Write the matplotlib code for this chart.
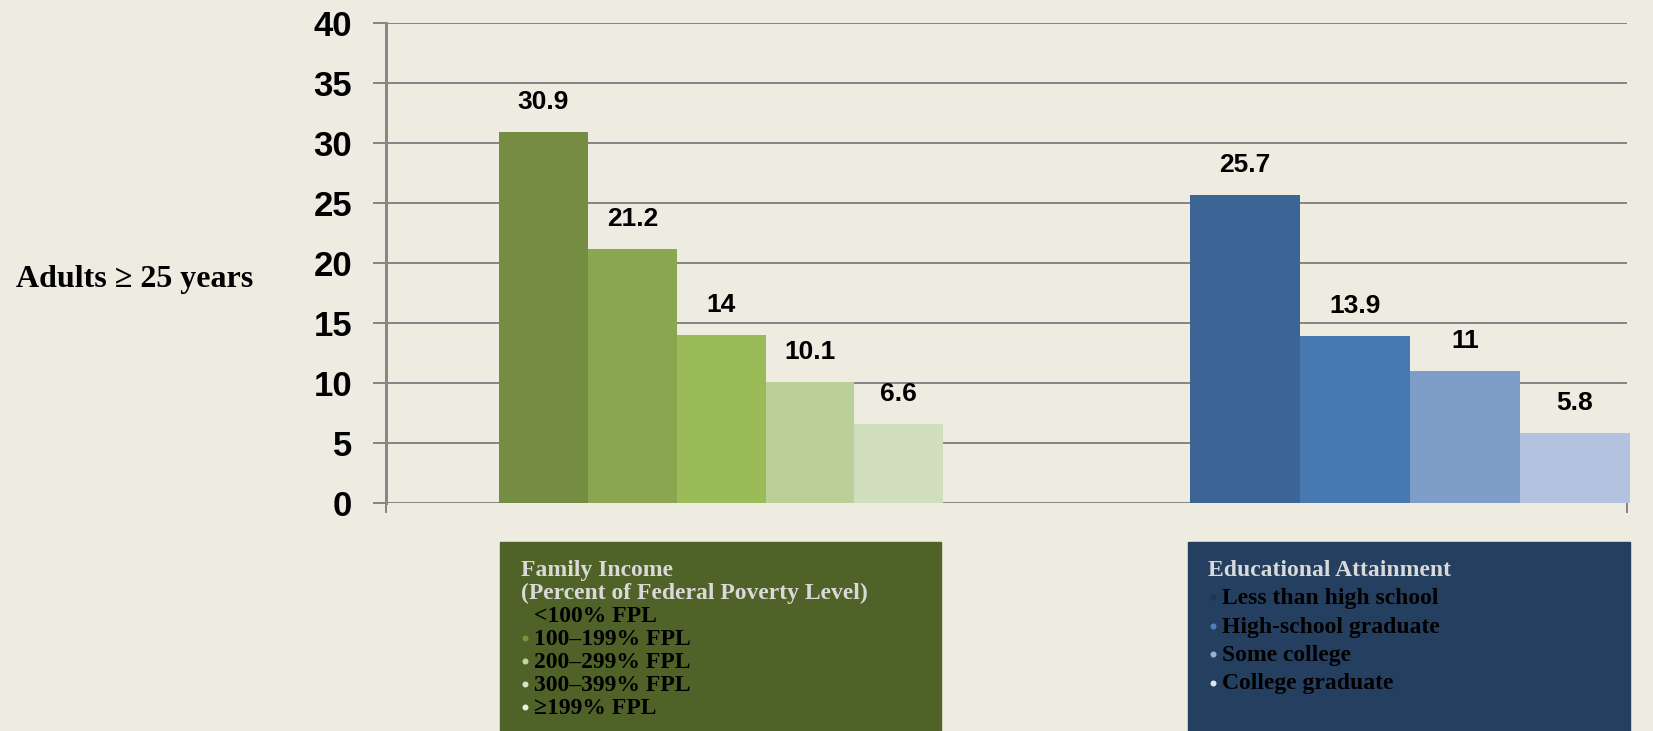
import matplotlib
matplotlib.use('Agg')
from matplotlib import pyplot as plt
from matplotlib.lines import Line2D
import matplotlib.patches as patches

# data
income_labels = ['<100% FPL', '100\u2013199% FPL', '200\u2013299% FPL', '300\u2013399% FPL', '\u2265199% FPL']
income_values = [30.9, 21.2, 14, 10.1, 6.6]
income_colors = ['#748D42', '#8AA650', '#9BBB59', '#BBD098', '#D1DEBD']
income_bullets = ['#4F6228', '#77933C', '#C3D69B', '#D7E4BD', '#EBF1DE']

edu_labels = ['Less than high school', 'High-school graduate', 'Some college', 'College graduate']
edu_values = [25.7, 13.9, 11, 5.8]
edu_colors = ['#3C6595', '#4878B0', '#7F9DC9', '#B3C3DF']
edu_bullets = ['#17375E', '#4F81BD', '#95B3D7', '#DCE6F2']

y_ticks = [0, 5, 10, 15, 20, 25, 30, 35, 40]

W, H = 1653, 731
bg = '#EEECE1'
grid_col = '#878787'
px = 0.72  # points per pixel at dpi 100

def fx(p):
    return p / W

def fy(p):
    return 1 - p / H

fig = plt.figure(figsize=(W / 100, H / 100), dpi=100, facecolor=bg)

# plot area: x from 386 to 1627 px, y=0 at 503 px, y=40 at 23 px
ax = fig.add_axes([fx(386), fy(503), (1627 - 386) / W, (503 - 23) / H])
ax.set_facecolor(bg)
ax.set_xlim(0, 1)
ax.set_ylim(0, 40)

# group layout (fraction of axis width)
inc_start, inc_w = 0.0911, 0.0716
edu_start, edu_w = 0.6479, 0.0886

# baseline under the income group
ax.hlines(0, 0.037, 0.503, color=grid_col, lw=3 * px, zorder=2)

inc_bars = ax.bar([inc_start + inc_w * (i + 0.5) for i in range(len(income_values))],
                  income_values, width=inc_w, color=income_colors, zorder=3, clip_on=False)
edu_bars = ax.bar([edu_start + edu_w * (i + 0.5) for i in range(len(edu_values))],
                  edu_values, width=edu_w, color=edu_colors, zorder=3, clip_on=False)

for bars in (inc_bars, edu_bars):
    ax.bar_label(bars, fmt='%g', padding=13, fontsize=19, fontweight='bold',
                 fontfamily='Liberation Sans', color='black')

# axes styling
ax.set_yticks(y_ticks)
ax.set_yticklabels([str(t) for t in y_ticks], fontsize=25, fontweight='bold',
                   fontfamily='Liberation Sans')
ax.tick_params(axis='y', length=13 * px, width=2 * px, color=grid_col, pad=15)
ax.set_xticks([0, 1])
ax.set_xticklabels(['', ''])
ax.tick_params(axis='x', length=10 * px, width=2 * px, color=grid_col)
ax.grid(axis='y', color=grid_col, lw=2 * px, zorder=1)
ax.set_axisbelow(True)
for s in ('top', 'right', 'bottom'):
    ax.spines[s].set_visible(False)
ax.spines['left'].set_color(grid_col)
ax.spines['left'].set_linewidth(3 * px)

# side label
fig.text(fx(16), fy(280), 'Adults \u2265 25 years', fontsize=23, fontweight='bold',
         fontfamily='Liberation Serif', va='center', ha='left')

# legend boxes
fig.patches.append(patches.Rectangle((fx(500), 0), (941 - 500) / W, fy(542),
                                     transform=fig.transFigure, color='#4F6228', zorder=0))
fig.patches.append(patches.Rectangle((fx(1188), 0), (1630 - 1188) / W, fy(542),
                                     transform=fig.transFigure, color='#253F60', zorder=0))

title_col = '#D9D9D9'
lfont = dict(fontsize=17, fontweight='bold', fontfamily='Liberation Serif', va='baseline')

# income legend
fig.text(fx(521), fy(576), 'Family Income', color=title_col, **lfont)
fig.text(fx(521), fy(599), '(Percent of Federal Poverty Level)', color=title_col, **lfont)
for i, lab in enumerate(income_labels):
    yb = 622.3 + i * 22.8
    fig.text(fx(534), fy(yb), lab, color='black', **lfont)
    fig.add_artist(Line2D([fx(525)], [fy(yb - 7)], marker='o', ms=6 * px, mew=0,
                          color=income_bullets[i], transform=fig.transFigure))

# education legend
fig.text(fx(1208), fy(576), 'Educational Attainment', color=title_col, **lfont)
for i, lab in enumerate(edu_labels):
    yb = 604 + i * 28.5
    fig.text(fx(1222.5), fy(yb), lab, color='black', **lfont)
    fig.add_artist(Line2D([fx(1213)], [fy(yb - 7)], marker='o', ms=6 * px, mew=0,
                          color=edu_bullets[i], transform=fig.transFigure))

fig.savefig('out.png', dpi=100, facecolor=bg)
